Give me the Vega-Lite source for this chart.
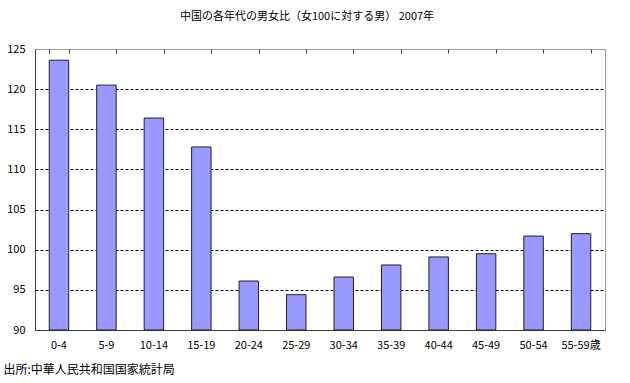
{
  "$schema": "https://vega.github.io/schema/vega-lite/v6.json",
  "width": 570,
  "height": 281,
  "autosize": {"type": "none"},
  "padding": {"left": 35, "top": 49, "right": 25, "bottom": 53},
  "background": "white",
  "title": {
    "text": "中国の各年代の男女比（女100に対する男） 2007年",
    "font": "Noto Sans CJK JP",
    "fontSize": 11,
    "fontWeight": "normal",
    "color": "black",
    "anchor": "middle",
    "baseline": "middle",
    "dx": -13,
    "offset": 15
  },
  "config": {
    "view": {"stroke": "#9a9a9a", "strokeWidth": 1},
    "font": "Noto Sans CJK JP"
  },
  "data": {
    "values": [
      {"age": "0-4", "ratio": 123.6},
      {"age": "5-9", "ratio": 120.5},
      {"age": "10-14", "ratio": 116.4},
      {"age": "15-19", "ratio": 112.8},
      {"age": "20-24", "ratio": 96.1},
      {"age": "25-29", "ratio": 94.4},
      {"age": "30-34", "ratio": 96.6},
      {"age": "35-39", "ratio": 98.1},
      {"age": "40-44", "ratio": 99.1},
      {"age": "45-49", "ratio": 99.5},
      {"age": "50-54", "ratio": 101.7},
      {"age": "55-59歳", "ratio": 102.0}
    ]
  },
  "resolve": {"axis": {"x": "independent"}},
  "layer": [
    {
      "mark": {"type": "bar", "fill": "#9999FF", "stroke": "#222222", "strokeWidth": 1},
      "encoding": {
        "x": {
          "field": "age",
          "type": "nominal",
          "sort": null,
          "scale": {"paddingInner": 0.59, "paddingOuter": 0.3},
          "axis": {
            "title": "出所:中華人民共和国国家統計局",
            "titleFont": "Noto Sans CJK JP",
            "titleFontSize": 12,
            "titleFontWeight": "normal",
            "titleColor": "black",
            "titleAnchor": "start",
            "titleAlign": "left",
            "titleBaseline": "middle",
            "titleX": -32,
            "titleY": 39,
            "labelAngle": 0,
            "labelFontSize": 11,
            "labelColor": "black",
            "labelPadding": 9,
            "domainColor": "#404040",
            "ticks": false,
            "grid": false
          }
        },
        "y": {
          "field": "ratio",
          "type": "quantitative",
          "scale": {"domain": [90, 125], "nice": false, "zero": false},
          "axis": {
            "title": null,
            "values": [90, 95, 100, 105, 110, 115, 120, 125],
            "labelFontSize": 11,
            "labelColor": "black",
            "labelPadding": 10,
            "ticks": false,
            "domainColor": "#404040",
            "grid": true,
            "gridColor": "black",
            "gridDash": [3, 2],
            "gridOpacity": {"condition": {"test": "datum.value == 90 || datum.value == 125", "value": 0}, "value": 1}
          }
        },
        "y2": {"datum": 90}
      }
    },
    {
      "mark": {"type": "bar", "opacity": 0},
      "encoding": {
        "x": {
          "field": "age",
          "type": "nominal",
          "sort": null,
          "axis": {
            "title": null,
            "labels": false,
            "domain": false,
            "offset": -4,
            "tickBand": "extent",
            "tickSize": 4,
            "tickColor": "#404040",
            "grid": false
          }
        },
        "y": {"field": "ratio", "type": "quantitative"},
        "y2": {"datum": 90}
      }
    }
  ]
}
